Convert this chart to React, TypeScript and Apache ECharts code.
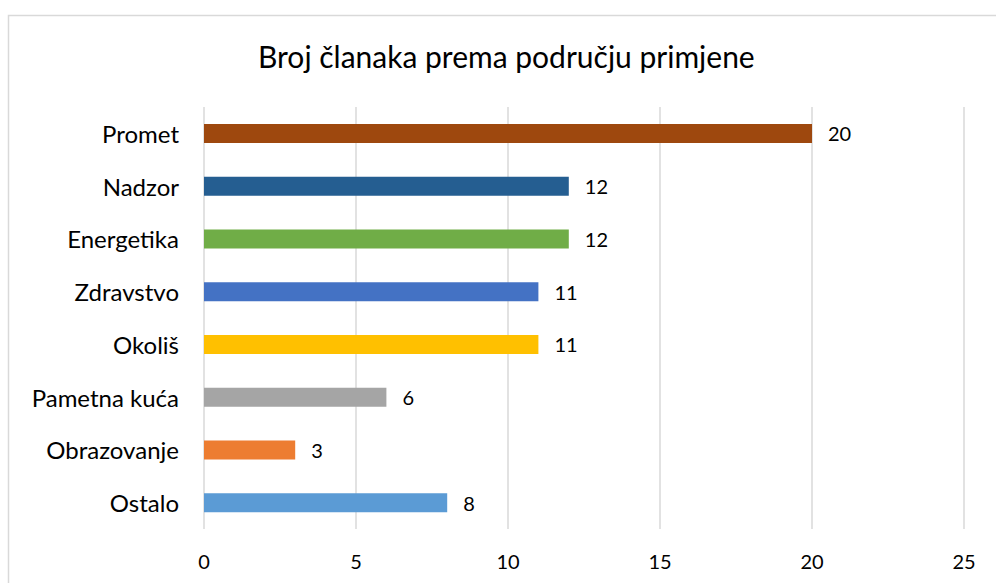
import React, { useEffect, useRef } from "react";
import * as echarts from "echarts";

const categories = ["Promet", "Nadzor", "Energetika", "Zdravstvo", "Okoliš", "Pametna kuća", "Obrazovanje", "Ostalo"];
const values = [20, 12, 12, 11, 11, 6, 3, 8];
const colors = ["#9E480E", "#255E91", "#70AD47", "#4472C4", "#FFC000", "#A5A5A5", "#ED7D31", "#5B9BD5"];
const title = "Broj članaka prema području primjene";

const FONT = "Lato, 'Open Sans', sans-serif";

export default function App() {
  const ref = useRef<HTMLDivElement>(null);
  useEffect(() => {
    const chart = echarts.init(ref.current!, null, { renderer: "svg" });
    chart.setOption({
      animation: false,
      backgroundColor: "#ffffff",
      title: {
        text: title,
        left: 253,
        top: 36,
        textStyle: { fontFamily: FONT, fontSize: 30, fontWeight: "normal", color: "#000" },
      },
      graphic: [
        {
          type: "rect",
          shape: { x: 8.5, y: 15.5, width: 1100, height: 700 },
          style: { fill: "none", stroke: "#d9d9d9", lineWidth: 1.5 },
          silent: true,
        },
      ],
      grid: { left: 204, right: 32, top: 107, bottom: 54, containLabel: false },
      xAxis: {
        type: "value",
        min: 0,
        max: 25,
        interval: 5,
        axisLine: { show: false },
        axisTick: { show: false },
        splitLine: { show: true, lineStyle: { color: "#d9d9d9", width: 1.5 } },
        axisLabel: { fontFamily: FONT, fontSize: 20, color: "#000", margin: 22 },
      },
      yAxis: {
        type: "category",
        inverse: true,
        data: categories,
        axisLine: { show: false },
        axisTick: { show: false },
        axisLabel: { fontFamily: FONT, fontSize: 24, color: "#000", margin: 25 },
      },
      series: [
        {
          type: "bar",
          barWidth: 19,
          data: values.map((v, i) => ({ value: v, itemStyle: { color: colors[i] } })),
          label: {
            show: true,
            position: "right",
            distance: 16,
            fontFamily: FONT,
            fontSize: 20,
            color: "#000",
          },
        },
      ],
    });
    return () => chart.dispose();
  }, []);
  return (
    <div
      ref={ref}
      style={{ position: "absolute", left: 0, top: 0, width: 996, height: 583 }}
    />
  );
}
